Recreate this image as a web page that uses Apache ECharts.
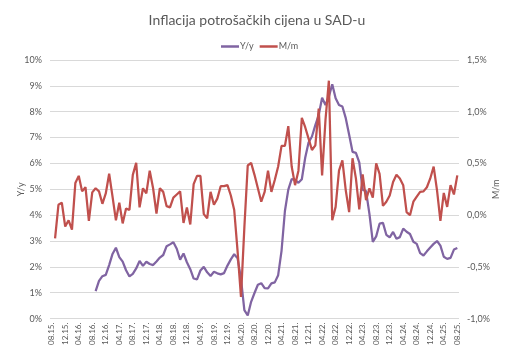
<!DOCTYPE html>
<html><head><meta charset="utf-8">
<script src="https://cdn.jsdelivr.net/npm/echarts@6/dist/echarts.min.js"></script>
<style>html,body{margin:0;padding:0;background:#fff}#c{width:514px;height:353px}</style>
</head><body><div id="c"></div>
<script>
const categories = [
'08.15.','09.15.','10.15.','11.15.','12.15.',
'01.16.','02.16.','03.16.','04.16.','05.16.','06.16.','07.16.','08.16.','09.16.','10.16.','11.16.','12.16.',
'01.17.','02.17.','03.17.','04.17.','05.17.','06.17.','07.17.','08.17.','09.17.','10.17.','11.17.','12.17.',
'01.18.','02.18.','03.18.','04.18.','05.18.','06.18.','07.18.','08.18.','09.18.','10.18.','11.18.','12.18.',
'01.19.','02.19.','03.19.','04.19.','05.19.','06.19.','07.19.','08.19.','09.19.','10.19.','11.19.','12.19.',
'01.20.','02.20.','03.20.','04.20.','05.20.','06.20.','07.20.','08.20.','09.20.','10.20.','11.20.','12.20.',
'01.21.','02.21.','03.21.','04.21.','05.21.','06.21.','07.21.','08.21.','09.21.','10.21.','11.21.','12.21.',
'01.22.','02.22.','03.22.','04.22.','05.22.','06.22.','07.22.','08.22.','09.22.','10.22.','11.22.','12.22.',
'01.23.','02.23.','03.23.','04.23.','05.23.','06.23.','07.23.','08.23.','09.23.','10.23.','11.23.','12.23.',
'01.24.','02.24.','03.24.','04.24.','05.24.','06.24.','07.24.','08.24.','09.24.','10.24.','11.24.','12.24.',
'01.25.','02.25.','03.25.','04.25.','05.25.','06.25.','07.25.','08.25.'
];

// Y/y (left axis, %)
const yoy = [
null,null,null,null,null,null,null,null,null,null,null,null,null,
1.06,1.46,1.64,1.69,2.07,
2.50,2.74,2.38,2.20,1.87,1.63,1.73,1.94,2.23,2.04,2.20,2.11,
2.07,2.21,2.36,2.46,2.80,2.87,2.95,2.70,2.28,2.52,2.18,1.91,
1.55,1.52,1.86,2.00,1.79,1.65,1.81,1.75,1.71,1.76,2.05,2.29,
2.49,2.33,1.54,0.33,0.12,0.65,0.99,1.31,1.37,1.18,1.17,1.36,
1.40,1.68,2.62,4.16,4.99,5.39,5.37,5.25,5.39,6.22,6.81,7.04,
7.48,7.87,8.54,8.26,8.58,9.06,8.52,8.26,8.20,7.75,7.11,6.45,
6.41,6.04,4.98,4.93,4.05,2.97,3.18,3.67,3.70,3.24,3.14,3.35,
3.09,3.15,3.48,3.36,3.27,2.97,2.89,2.53,2.44,2.60,2.75,2.89,
3.00,2.82,2.39,2.31,2.35,2.67,2.73
];

// M/m (right axis, %)
const mom = [
null,
-0.225,0.10,0.12,-0.11,-0.05,-0.14,0.31,0.38,0.23,0.27,-0.055,0.22,0.26,0.23,0.11,0.21,
0.40,0.18,-0.05,0.12,-0.08,0.065,0.05,0.39,0.505,0.075,0.26,0.21,0.43,0.26,0.016,0.26,
0.225,0.087,0.075,0.17,0.20,0.23,-0.075,0.075,-0.09,0.30,0.38,0.38,0.01,-0.03,
0.225,0.10,0.16,0.28,0.28,0.29,0.19,0.05,-0.35,-0.79,-0.12,0.48,0.505,0.39,0.26,0.13,
0.225,0.43,0.225,0.34,0.47,0.67,0.67,0.86,0.47,0.29,0.43,0.94,0.85,0.74,0.63,0.675,
1.03,0.385,0.92,1.30,-0.05,0.08,0.43,0.53,0.24,
0.03,0.55,0.355,0.055,0.395,0.145,0.26,0.17,0.50,0.40,0.09,0.13,0.19,0.32,0.39,0.355,
0.29,0.03,0.00,0.13,0.18,0.225,0.23,0.27,0.355,0.47,0.24,-0.055,0.215,0.08,0.29,0.20,0.385
];

const leftTicks = {min: 0, max: 10, step: 1};
const rightTicks = {min: -1, max: 1.5, step: 0.25, labelEvery: 0.5};

const FONT = 'Lato';
const GREY = '#595959';
const chart = echarts.init(document.getElementById('c'), null, {renderer: 'canvas'});
chart.setOption({
  animation: false,
  backgroundColor: '#fff',
  textStyle: {fontFamily: FONT},
  title: {
    text: 'Inflacija potrošačkih cijena u SAD-u',
    left: 'center', top: 8,
    textStyle: {fontFamily: FONT, fontSize: 14, fontWeight: 'normal', color: GREY}
  },
  legend: {
    data: ['Y/y', 'M/m'], top: 37, left: 216,
    icon: 'rect', itemWidth: 18, itemHeight: 2.5, itemGap: 6,
    textStyle: {fontFamily: FONT, fontSize: 9, color: GREY, padding: [0,0,0,-4]}
  },
  grid: {left: 50, right: 55, top: 60, bottom: 34.4},
  xAxis: {
    type: 'category', data: categories, boundaryGap: true,
    axisLine: {show: false}, axisTick: {show: false},
    axisLabel: {interval: 3, rotate: 90, fontSize: 8, color: GREY, margin: 4, fontFamily: FONT}
  },
  yAxis: [{
    type: 'value', min: leftTicks.min, max: leftTicks.max, interval: leftTicks.step,
    name: 'Y/y', nameLocation: 'middle', nameGap: 24, nameRotate: 90, nameMoveOverlap: false,
    nameTextStyle: {fontSize: 9, color: GREY, fontFamily: FONT},
    axisLine: {show: false}, axisTick: {show: false},
    axisLabel: {formatter: '{value}%', fontSize: 9, color: GREY, margin: 8, fontFamily: FONT},
    splitLine: {lineStyle: {color: '#d9d9d9', width: 1}}
  }, {
    type: 'value', min: rightTicks.min, max: rightTicks.max, interval: rightTicks.step,
    position: 'right',
    name: 'M/m', nameLocation: 'middle', nameGap: 33, nameRotate: 90, nameMoveOverlap: false,
    nameTextStyle: {fontSize: 9, color: GREY, fontFamily: FONT},
    axisLine: {show: false}, axisTick: {show: false},
    axisLabel: {
      fontSize: 9, color: GREY, margin: 8, fontFamily: FONT,
      formatter: function (v) {
        const k = Math.round(v * 100);
        if (k % Math.round(rightTicks.labelEvery * 100) !== 0) return '';
        return (v).toFixed(1).replace('.', ',') + '%';
      }
    },
    splitLine: {show: false}
  }],
  series: [{
    name: 'Y/y', type: 'line', yAxisIndex: 0, data: yoy,
    symbol: 'none', showSymbol: false,
    lineStyle: {color: '#8064A2', width: 2.25}, itemStyle: {color: '#8064A2'}
  }, {
    name: 'M/m', type: 'line', yAxisIndex: 1, data: mom,
    symbol: 'none', showSymbol: false,
    lineStyle: {color: '#C0504D', width: 2.25}, itemStyle: {color: '#C0504D'}
  }]
});
</script>
</body></html>
